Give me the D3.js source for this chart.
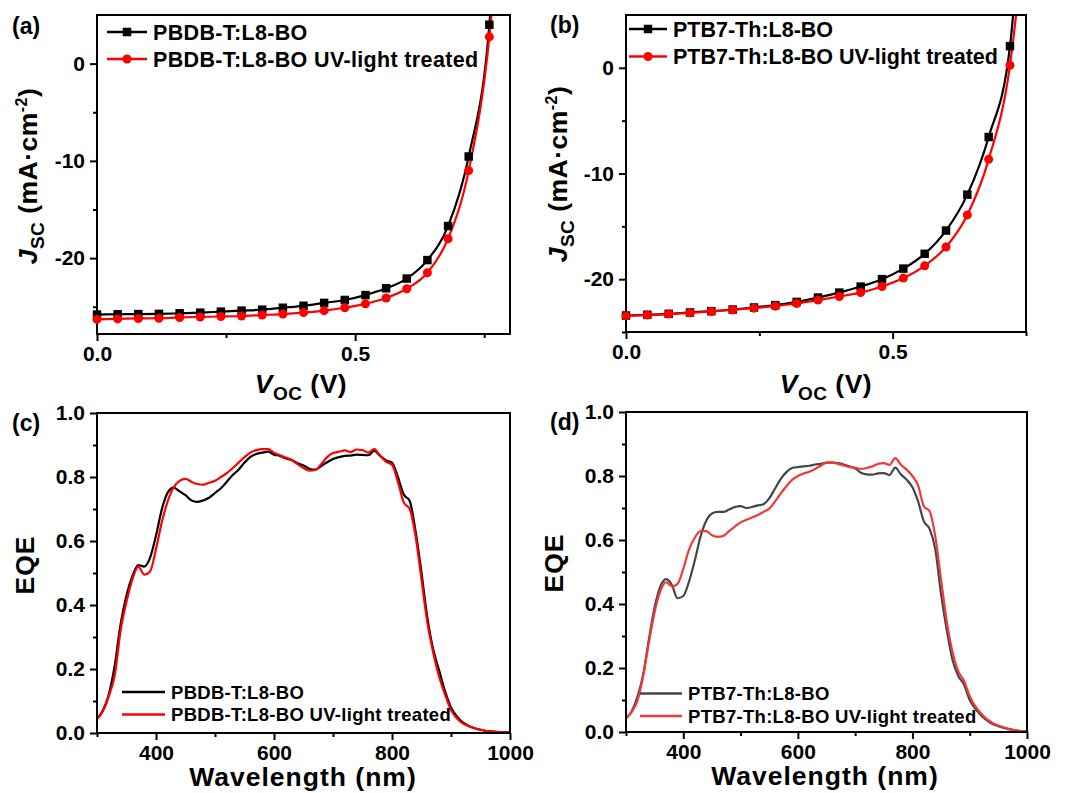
<!DOCTYPE html>
<html>
<head>
<meta charset="utf-8">
<script src="https://cdn.jsdelivr.net/npm/d3@7"></script>
<style>
  body { margin: 0; background: #fff; }
  svg text { font-family: "Liberation Sans", Arial, sans-serif; font-weight: bold; fill: #000; }
</style>
</head>
<body>
<svg id="fig" width="1067" height="793"></svg>
<script>
// J-V data (a): PBDB-T:L8-BO
var voltsA = [0.00, 0.04, 0.08, 0.12, 0.16, 0.20, 0.24, 0.28, 0.32, 0.36, 0.40, 0.44, 0.48, 0.52, 0.56, 0.60, 0.64, 0.68, 0.72, 0.76, 0.78];
var jscA_ref = [-25.8, -25.77, -25.75, -25.73, -25.67, -25.6, -25.5, -25.4, -25.3, -25.1, -24.9, -24.6, -24.3, -23.8, -23.1, -22.1, -20.2, -16.7, -9.55, 4.0, 20];
var jscA_uv = [-26.3, -26.25, -26.2, -26.18, -26.1, -26.05, -26.0, -25.95, -25.85, -25.75, -25.6, -25.4, -25.1, -24.7, -24.1, -23.15, -21.5, -18.0, -11.0, 2.75, 15];

// J-V data (b): PTB7-Th:L8-BO
var voltsB = [0.00, 0.04, 0.08, 0.12, 0.16, 0.20, 0.24, 0.28, 0.32, 0.36, 0.40, 0.44, 0.48, 0.52, 0.56, 0.60, 0.64, 0.68, 0.72, 0.74];
var jscB_ref = [-23.44, -23.37, -23.28, -23.15, -23.03, -22.87, -22.68, -22.46, -22.15, -21.74, -21.27, -20.7, -20.0, -19.0, -17.6, -15.4, -12.0, -6.55, 2.05, 14];
var jscB_uv = [-23.47, -23.4, -23.3, -23.19, -23.06, -22.9, -22.74, -22.55, -22.3, -21.98, -21.64, -21.27, -20.7, -19.9, -18.74, -16.95, -13.92, -8.66, 0.25, 9];

// EQE wavelengths (nm)
var wavelengths = [300, 310, 320, 330, 340, 350, 360, 370, 380, 390, 400, 410, 420, 430, 440, 450, 460, 470, 480, 490,
  500, 510, 520, 530, 540, 550, 560, 570, 580, 590, 600, 610, 620, 630, 640, 650, 660, 670, 680, 690,
  700, 710, 720, 730, 740, 750, 760, 770, 780, 790, 800, 810, 820, 830, 840, 850, 860, 870, 880, 890,
  900, 910, 920, 930, 940, 950, 960, 970, 980, 990, 1000];

// EQE (c)
var eqeC_ref = [0.044, 0.07, 0.12, 0.21, 0.34, 0.43, 0.49, 0.525, 0.52, 0.548, 0.617, 0.70, 0.752, 0.767, 0.755, 0.743, 0.727, 0.722, 0.727, 0.735,
  0.75, 0.765, 0.785, 0.806, 0.823, 0.845, 0.863, 0.872, 0.876, 0.879, 0.87, 0.866, 0.858, 0.853, 0.843, 0.836, 0.826, 0.823, 0.834, 0.846,
  0.856, 0.862, 0.866, 0.867, 0.87, 0.869, 0.868, 0.882, 0.866, 0.852, 0.845, 0.80, 0.745, 0.725, 0.63, 0.50, 0.36, 0.26, 0.195, 0.13,
  0.08, 0.052, 0.033, 0.022, 0.015, 0.01, 0.006, 0.004, 0.003, 0.002, 0.002];
var eqeC_uv = [0.044, 0.068, 0.115, 0.18, 0.32, 0.41, 0.48, 0.52, 0.495, 0.505, 0.575, 0.66, 0.725, 0.768, 0.788, 0.794, 0.785, 0.778, 0.776, 0.782,
  0.788, 0.80, 0.812, 0.828, 0.845, 0.862, 0.876, 0.884, 0.887, 0.887, 0.876, 0.868, 0.861, 0.853, 0.84, 0.828, 0.82, 0.822, 0.84, 0.862,
  0.875, 0.879, 0.883, 0.878, 0.886, 0.884, 0.876, 0.887, 0.866, 0.848, 0.838, 0.785, 0.72, 0.70, 0.615, 0.48, 0.345, 0.25, 0.175, 0.12,
  0.072, 0.046, 0.03, 0.021, 0.015, 0.01, 0.006, 0.004, 0.003, 0.002, 0.002];

// EQE (d)
var eqeD_ref = [0.043, 0.065, 0.11, 0.18, 0.29, 0.39, 0.455, 0.478, 0.46, 0.418, 0.425, 0.47, 0.535, 0.61, 0.66, 0.683, 0.688, 0.688, 0.695, 0.703,
  0.706, 0.70, 0.703, 0.708, 0.712, 0.73, 0.76, 0.79, 0.812, 0.825, 0.828, 0.83, 0.832, 0.836, 0.838, 0.842, 0.842, 0.84, 0.836, 0.83,
  0.824, 0.81, 0.805, 0.804, 0.808, 0.809, 0.803, 0.826, 0.805, 0.788, 0.765, 0.72, 0.658, 0.635, 0.57, 0.43, 0.318, 0.225, 0.175, 0.148,
  0.10, 0.072, 0.052, 0.036, 0.025, 0.018, 0.013, 0.008, 0.005, 0.003, 0.003];
var eqeD_uv = [0.043, 0.063, 0.098, 0.175, 0.28, 0.375, 0.44, 0.468, 0.455, 0.463, 0.51, 0.57, 0.607, 0.628, 0.628, 0.615, 0.61, 0.613, 0.628, 0.642,
  0.655, 0.663, 0.67, 0.678, 0.688, 0.698, 0.72, 0.745, 0.768, 0.788, 0.80, 0.808, 0.813, 0.822, 0.832, 0.842, 0.843, 0.838, 0.833, 0.828,
  0.826, 0.822, 0.825, 0.83, 0.838, 0.84, 0.835, 0.856, 0.835, 0.82, 0.80, 0.77, 0.705, 0.69, 0.61, 0.475, 0.345, 0.25, 0.19, 0.16,
  0.112, 0.08, 0.058, 0.04, 0.028, 0.02, 0.014, 0.009, 0.005, 0.003, 0.003];

var legendA = ["PBDB-T:L8-BO", "PBDB-T:L8-BO UV-light treated"];
var legendB = ["PTB7-Th:L8-BO", "PTB7-Th:L8-BO UV-light treated"];

var jvXTicks = [0, 0.5];
var jvXMinor = [0.25, 0.75];
var jvYTicksA = [-20, -10, 0];
var jvYMinorA = [-25, -15, -5];
var jvYTicksB = [-20, -10, 0];
var jvYMinorB = [-25, -15, -5];
var eqeXTicks = [400, 600, 800, 1000];
var eqeXMinor = [300, 500, 700, 900];
var eqeYTicks = [0, 0.2, 0.4, 0.6, 0.8, 1.0];
var eqeYMinor = [0.1, 0.3, 0.5, 0.7, 0.9];

var svg = d3.select("#fig");
var clipCount = 0;

function makePanel(o)
{
  var g = svg.append("g")
    .attr("transform", "translate(" + o.left + "," + o.top + ")");

  var x = d3.scaleLinear().domain(o.xDomain).range([0, o.width]);
  var y = d3.scaleLinear().domain(o.yDomain).range([o.height, 0]);

  // minor ticks
  g.append("g")
    .attr("transform", "translate(0," + o.height + ")")
    .call(d3.axisBottom(x).tickValues(o.xMinor).tickSize(4).tickFormat(""))
    .call(function(s) { s.select(".domain").remove(); });
  g.append("g")
    .call(d3.axisLeft(y).tickValues(o.yMinor).tickSize(4).tickFormat(""))
    .call(function(s) { s.select(".domain").remove(); });

  // major ticks
  var xa = g.append("g")
    .attr("transform", "translate(0," + o.height + ")")
    .call(d3.axisBottom(x).tickValues(o.xTicks).tickSize(7).tickPadding(5).tickFormat(o.xFormat));
  xa.select(".domain").remove();
  xa.selectAll("text").style("font-size", "21px").attr("dy", "0.72em");

  var ya = g.append("g")
    .call(d3.axisLeft(y).tickValues(o.yTicks).tickSize(7).tickPadding(5).tickFormat(o.yFormat));
  ya.select(".domain").remove();
  ya.selectAll("text").style("font-size", "21px");

  g.selectAll(".tick line").attr("stroke", "#000").attr("stroke-width", 2);

  var id = "clip" + (clipCount++);
  g.append("clipPath").attr("id", id)
    .append("rect").attr("width", o.width).attr("height", o.height);

  var plot = g.append("g").attr("clip-path", "url(#" + id + ")");

  g.append("rect")
    .attr("width", o.width)
    .attr("height", o.height)
    .attr("fill", "none")
    .attr("stroke", "#000")
    .attr("stroke-width", 2);

  return { g: g, plot: plot, x: x, y: y };
}

function zip(xs, ys)
{
  return xs.map(function(v, i) { return { x: v, y: ys[i] }; });
}

function drawJV(p, data, color, shape)
{
  var line = d3.line()
    .x(function(d) { return p.x(d.x); })
    .y(function(d) { return p.y(d.y); })
    .curve(d3.curveMonotoneX);

  p.plot.append("path")
    .datum(data)
    .attr("d", line)
    .attr("fill", "none")
    .attr("stroke", color)
    .attr("stroke-width", 2.2);

  var yMax = p.y.domain()[1];
  var pts = data.filter(function(d) { return d.y <= yMax; });
  var sym = d3.symbol().type(shape).size(shape === d3.symbolSquare ? 72 : 64);

  p.g.selectAll(null)
    .data(pts)
    .enter().append("path")
    .attr("d", sym)
    .attr("transform", function(d) { return "translate(" + p.x(d.x) + "," + p.y(d.y) + ")"; })
    .attr("fill", color);
}

function drawEQE(p, data, color)
{
  var line = d3.line()
    .x(function(d) { return p.x(d.x); })
    .y(function(d) { return p.y(d.y); })
    .curve(d3.curveMonotoneX);

  p.plot.append("path")
    .datum(data)
    .attr("d", line)
    .attr("fill", "none")
    .attr("stroke", color)
    .attr("stroke-width", 2.2);
}

function legend(x0, x1, rows, labels, colors, shapes, fontSize, spacing)
{
  labels.forEach(function(lab, i)
  {
    svg.append("line")
      .attr("x1", x0).attr("x2", x1)
      .attr("y1", rows[i]).attr("y2", rows[i])
      .attr("stroke", colors[i]).attr("stroke-width", 2.4);
    if (shapes)
    {
      svg.append("path")
        .attr("d", d3.symbol().type(shapes[i]).size(shapes[i] === d3.symbolSquare ? 72 : 64))
        .attr("transform", "translate(" + ((x0 + x1) / 2) + "," + rows[i] + ")")
        .attr("fill", colors[i]);
    }
    svg.append("text")
      .attr("x", x1 + 6)
      .attr("y", rows[i])
      .attr("dy", "0.36em")
      .style("font-size", fontSize + "px")
      .style("letter-spacing", spacing + "px")
      .text(lab);
  });
}

function jscLabel(cx, cy)
{
  var t = svg.append("text")
    .attr("transform", "translate(" + cx + "," + cy + ") rotate(-90)")
    .attr("text-anchor", "middle")
    .style("font-size", "26.5px")
    .style("letter-spacing", "0.5px");
  t.append("tspan").style("font-style", "italic").text("J");
  t.append("tspan").attr("dy", 7).style("font-size", "19px").text("SC");
  t.append("tspan").attr("dy", -7).text(" (mA\u00b7cm");
  t.append("tspan").attr("dy", -10).style("font-size", "16px").text("-2");
  t.append("tspan").attr("dy", 10).text(")");
}

function vocLabel(cx, cy)
{
  var t = svg.append("text")
    .attr("x", cx).attr("y", cy)
    .attr("text-anchor", "middle")
    .style("font-size", "26.5px")
    .style("letter-spacing", "0.5px");
  t.append("tspan").style("font-style", "italic").text("V");
  t.append("tspan").attr("dy", 7).style("font-size", "19px").text("OC");
  t.append("tspan").attr("dy", -7).text(" (V)");
}

function plainLabel(cx, cy, txt, rotate)
{
  svg.append("text")
    .attr("transform", "translate(" + cx + "," + cy + ")" + (rotate ? " rotate(-90)" : ""))
    .attr("text-anchor", "middle")
    .style("font-size", "26.5px")
    .style("letter-spacing", "1px")
    .text(txt);
}

function panelTag(x, y, txt)
{
  svg.append("text").attr("x", x).attr("y", y).style("font-size", "23px").text(txt);
}

var fmt1 = d3.format(".1f");
var fmt0 = function(d) { return d3.format("d")(d).replace("\u2212", "-"); };

// (a)
var pa = makePanel({
  left: 97, top: 15, width: 413, height: 319,
  xDomain: [0, 0.8], yDomain: [-27.8, 5],
  xTicks: jvXTicks, xMinor: jvXMinor, yTicks: jvYTicksA, yMinor: jvYMinorA,
  xFormat: fmt1, yFormat: fmt0
});
drawJV(pa, zip(voltsA, jscA_ref), "#000000", d3.symbolSquare);
drawJV(pa, zip(voltsA, jscA_uv), "#ff0000", d3.symbolCircle);
legend(107, 147, [32, 59], legendA, ["#000000", "#ff0000"], [d3.symbolSquare, d3.symbolCircle], 21.5, 0.35);
jscLabel(37, 176);
vocLabel(301, 393);
panelTag(12, 34, "(a)");

// (b)
var pb = makePanel({
  left: 626, top: 15, width: 400, height: 317,
  xDomain: [0, 0.75], yDomain: [-25, 5],
  xTicks: jvXTicks, xMinor: jvXMinor, yTicks: jvYTicksB, yMinor: jvYMinorB,
  xFormat: fmt1, yFormat: fmt0
});
drawJV(pb, zip(voltsB, jscB_ref), "#000000", d3.symbolSquare);
drawJV(pb, zip(voltsB, jscB_uv), "#ff0000", d3.symbolCircle);
legend(629, 667, [29, 56.5], legendB, ["#000000", "#ff0000"], [d3.symbolSquare, d3.symbolCircle], 21.5, 0);
jscLabel(567, 174);
vocLabel(826, 393);
panelTag(550, 33, "(b)");

// (c)
var pc = makePanel({
  left: 97, top: 413, width: 413, height: 320,
  xDomain: [300, 1000], yDomain: [0, 1],
  xTicks: eqeXTicks, xMinor: eqeXMinor, yTicks: eqeYTicks, yMinor: eqeYMinor,
  xFormat: d3.format("d"), yFormat: fmt1
});
drawEQE(pc, zip(wavelengths, eqeC_ref), "#000000");
drawEQE(pc, zip(wavelengths, eqeC_uv), "#ff0000");
legend(122, 165, [692, 714.5], legendA, ["#000000", "#ff0000"], null, 18.5, 0.3);
plainLabel(34, 565, "EQE", true);
plainLabel(303, 786, "Wavelength (nm)", false);
panelTag(12, 431, "(c)");

// (d)
var pd = makePanel({
  left: 626, top: 412, width: 401, height: 320,
  xDomain: [300, 1000], yDomain: [0, 1],
  xTicks: eqeXTicks, xMinor: eqeXMinor, yTicks: eqeYTicks, yMinor: eqeYMinor,
  xFormat: d3.format("d"), yFormat: fmt1
});
drawEQE(pd, zip(wavelengths, eqeD_ref), "#454545");
drawEQE(pd, zip(wavelengths, eqeD_uv), "#f03a3a");
legend(640, 682, [693.5, 716], legendB, ["#454545", "#f03a3a"], null, 18.5, 0.3);
plainLabel(563, 563, "EQE", true);
plainLabel(825, 785, "Wavelength (nm)", false);
panelTag(550, 430, "(d)");
</script>
</body>
</html>
